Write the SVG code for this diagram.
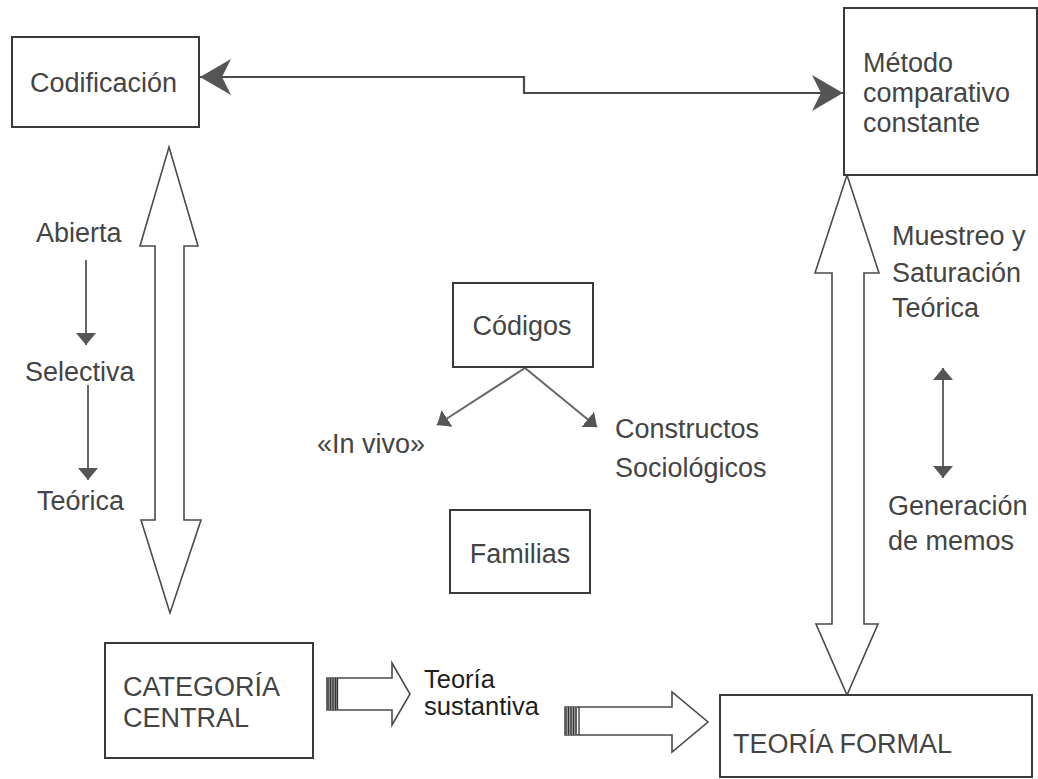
<svg xmlns="http://www.w3.org/2000/svg" width="1038" height="779" viewBox="0 0 1038 779">
<style>
.box{fill:#fff;stroke:#3a3a3a;stroke-width:2}
.t{font-family:"Liberation Sans",Arial,sans-serif;font-size:27px;fill:#444}
.tb{font-family:"Liberation Sans",Arial,sans-serif;font-size:25.5px;fill:#1e1e1e}
.hollow{fill:#fff;stroke:#4a4a4a;stroke-width:1.6;stroke-linejoin:miter}
.thin{fill:none;stroke:#666;stroke-width:2}
.main{fill:none;stroke:#4a4a4a;stroke-width:2.2}
.stripe{stroke:#333;stroke-width:1.3}
</style>
<defs>
<marker id="tri" viewBox="0 0 12 20" refX="12" refY="10" markerWidth="12" markerHeight="20" markerUnits="userSpaceOnUse" orient="auto-start-reverse">
<path d="M0,0 L12,10 L0,20 z" fill="#555"/>
</marker>
<marker id="stealth" viewBox="0 0 31 36" refX="31" refY="18" markerWidth="31" markerHeight="36" markerUnits="userSpaceOnUse" orient="auto-start-reverse">
<path d="M0,0 L31,18 L0,36 L9,18 z" fill="#555"/>
</marker>
</defs>
<rect width="1038" height="779" fill="#fff"/>

<g id="connectors">
<path class="main" d="M200,77 H524 V93 H843" marker-start="url(#stealth)" marker-end="url(#stealth)"/>
<path id="dbl-left" class="hollow" d="M169,147 L198,246 L184,246 L184,520 L201,520 L170,613 L141,520 L155,520 L155,246 L140,246 Z"/>
<path id="dbl-right" class="hollow" d="M847,175 L879,273 L864,273 L864,624 L878,624 L847,695 L816,624 L832,624 L832,273 L815,273 Z"/>
<line class="thin" x1="86" y1="260" x2="86" y2="345" marker-end="url(#tri)"/>
<line class="thin" x1="88" y1="385" x2="88" y2="480" marker-end="url(#tri)"/>
<line class="thin" x1="943" y1="368" x2="943" y2="478" marker-start="url(#tri)" marker-end="url(#tri)"/>
<line class="thin" x1="525" y1="368" x2="437" y2="425" marker-end="url(#tri)"/>
<line class="thin" x1="525" y1="368" x2="597" y2="427" marker-end="url(#tri)"/>
<g id="arrow-sustantiva">
<path class="hollow" d="M327,678 H392 V663 L410,694 L392,725 V710 H327 Z"/>
<rect x="327" y="678" width="10" height="32" fill="#999"/>
<line class="stripe" x1="328" y1="678" x2="328" y2="710"/>
<line class="stripe" x1="330.5" y1="678" x2="330.5" y2="710"/>
<line class="stripe" x1="333" y1="678" x2="333" y2="710"/>
<line class="stripe" x1="335.5" y1="678" x2="335.5" y2="710"/>
<line class="stripe" x1="337.5" y1="678" x2="337.5" y2="710"/>
</g>
<g id="arrow-formal">
<path class="hollow" d="M565,707 H672 V692 L708,722 L672,752 V735 H565 Z"/>
<rect x="565" y="707" width="12" height="28" fill="#aaa"/>
<line class="stripe" x1="566" y1="707" x2="566" y2="735"/>
<line class="stripe" x1="568.5" y1="707" x2="568.5" y2="735"/>
<line class="stripe" x1="571" y1="707" x2="571" y2="735"/>
<line class="stripe" x1="573.5" y1="707" x2="573.5" y2="735"/>
<line class="stripe" x1="576" y1="707" x2="576" y2="735"/>
<line class="stripe" x1="579" y1="707" x2="579" y2="735"/>
</g>
</g>

<g id="codificacion">
<rect class="box" x="12" y="37" width="187" height="90"/>
<text class="t" x="30" y="92">Codificación</text>
</g>
<g id="metodo">
<rect class="box" x="844" y="8" width="193" height="167"/>
<text class="t" x="863" y="72">Método</text>
<text class="t" x="863" y="102">comparativo</text>
<text class="t" x="863" y="132">constante</text>
</g>
<g id="abierta"><text class="t" x="36" y="242">Abierta</text></g>
<g id="selectiva"><text class="t" x="25" y="381">Selectiva</text></g>
<g id="teorica"><text class="t" x="37" y="510">Teórica</text></g>
<g id="codigos">
<rect class="box" x="453" y="283" width="140" height="84"/>
<text class="t" x="522" y="335" text-anchor="middle">Códigos</text>
</g>
<g id="invivo"><text class="t" x="317" y="453">«In vivo»</text></g>
<g id="constructos">
<text class="t" x="615" y="438">Constructos</text>
<text class="t" x="615" y="477">Sociológicos</text>
</g>
<g id="familias">
<rect class="box" x="450" y="510" width="140" height="83"/>
<text class="t" x="520" y="563" text-anchor="middle">Familias</text>
</g>
<g id="muestreo">
<text class="t" x="892" y="245">Muestreo y</text>
<text class="t" x="892" y="282">Saturación</text>
<text class="t" x="892" y="317">Teórica</text>
</g>
<g id="generacion">
<text class="t" x="888" y="515">Generación</text>
<text class="t" x="888" y="550">de memos</text>
</g>
<g id="categoria">
<rect class="box" x="105" y="643" width="208" height="115"/>
<text class="t" x="123" y="696">CATEGORÍA</text>
<text class="t" x="123" y="727">CENTRAL</text>
</g>
<g id="sustantiva">
<text class="tb" x="424" y="688">Teoría</text>
<text class="tb" x="424" y="715">sustantiva</text>
</g>
<g id="formal">
<rect class="box" x="720" y="695" width="312" height="82"/>
<text class="t" x="733" y="753">TEORÍA FORMAL</text>
</g>
</svg>
